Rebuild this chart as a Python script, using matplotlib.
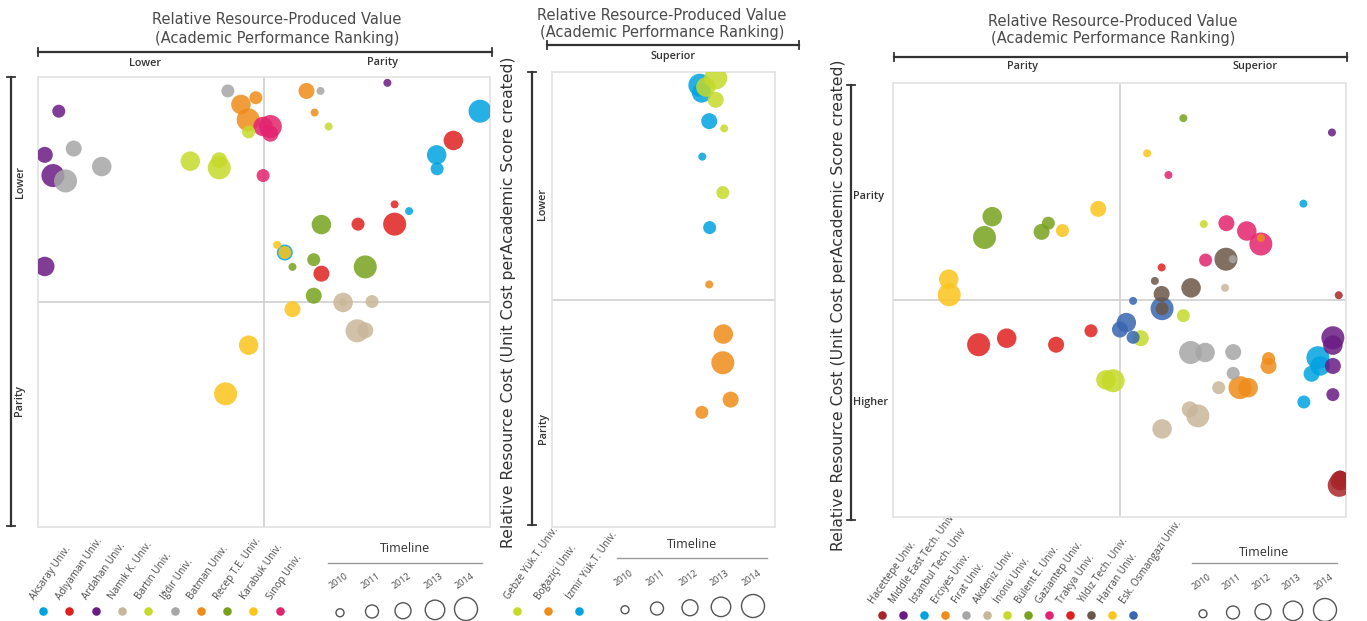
import matplotlib
matplotlib.use("Agg")
import matplotlib.pyplot as plt

plt.rcParams['font.family'] = ['Open Sans', 'DejaVu Sans']

W, H = 1367, 621
YEARS = [2010, 2011, 2012, 2013, 2014]
YEAR_DIAM = {2010: 8, 2011: 13, 2012: 16, 2013: 19.5, 2014: 23}

C = dict(cyan='#00a3e0', red='#e0201f', purple='#6a1b84', tan='#c9b79a', lime='#c5da2a',
         gray='#a6a6a6', orange='#ef8c1a', green='#78a21e', yellow='#fbc51c', pink='#e3236f',
         darkred='#a8262a', brown='#6b5747', blue='#3866b0')

# ---------------- Panel 1 data ----------------
p1_names = ["Aksaray Univ.", "Adıyaman Univ.", "Ardahan Univ.", "Namık K. Univ.", "Bartın Univ.",
            "Iğdır Univ.", "Batman Univ.", "Recep T.E. Univ.", "Karabuk Univ.", "Sinop Univ."]
p1_colors = [C['cyan'], C['red'], C['purple'], C['tan'], C['lime'],
             C['gray'], C['orange'], C['green'], C['yellow'], C['pink']]
p1_uni = [2, 2, 2, 2, 2, 5, 5, 5, 5, 5, 6, 6, 6, 6, 6, 4, 4, 4, 4, 4, 9, 9, 9, 9, 9,
          0, 0, 0, 0, 0, 1, 1, 1, 1, 1, 7, 7, 7, 7, 7, 3, 3, 3, 3, 3, 8, 8, 8, 8, 8]
p1_x = [77.3, 4.6, 1.5, 3.3, 1.5, 42.0, 62.5, 7.9, 14.1, 6.1, 48.2, 44.9, 46.5, 59.4, 61.2,
        46.6, 64.3, 33.7, 40.1, 40.1, 51.4, 49.8, 51.4, 49.8, 50.5,
        97.8, 88.2, 88.3, 82.1, 54.6, 91.9, 78.9, 70.8, 78.9, 62.7,
        62.7, 61.0, 56.3, 72.4, 61.0, 67.5, 67.5, 73.9, 70.6, 72.4,
        52.9, 54.6, 56.3, 46.6, 41.5]
p1_y = [98.7, 92.4, 82.7, 78.1, 57.9, 96.9, 96.9, 84.1, 80.1, 76.9, 95.4, 93.9, 90.5, 96.9, 92.1,
        87.8, 89.0, 81.3, 81.5, 79.8, 89.0, 89.0, 87.4, 78.1, 88.5,
        92.4, 82.7, 79.6, 70.2, 61.0, 85.9, 71.7, 67.3, 67.3, 56.3,
        67.2, 59.4, 57.8, 57.8, 51.4, 49.9, 49.9, 50.1, 43.6, 43.7,
        62.7, 61.0, 48.4, 40.4, 29.6]
p1_year = [2010, 2011, 2012, 2014, 2013, 2011, 2010, 2012, 2013, 2014, 2011, 2013, 2014, 2012, 2010,
           2011, 2010, 2013, 2012, 2014, 2014, 2013, 2012, 2011, 2010,
           2014, 2013, 2011, 2010, 2012, 2013, 2010, 2011, 2014, 2012,
           2013, 2011, 2010, 2014, 2012, 2013, 2010, 2011, 2014, 2012,
           2010, 2011, 2012, 2013, 2014]

# ---------------- Panel 2 data ----------------
p2_names = ["Gebze Yük.T. Univ.", "Boğaziçi Univ.", "İzmir Yük.T. Univ."]
p2_colors = [C['lime'], C['orange'], C['cyan']]
p2_uni = [2, 2, 2, 2, 2, 0, 0, 0, 0, 0, 1, 1, 1, 1, 1]
p2_x = [66.3, 67.1, 70.5, 67.4, 70.7, 73.4, 69.0, 73.4, 77.2, 76.6, 70.5, 76.8, 76.6, 80.1, 67.2]
p2_y = [97.1, 95.4, 89.2, 81.4, 65.8, 98.7, 96.7, 93.9, 87.6, 73.5, 53.3, 42.4, 36.1, 28.0, 25.2]
p2_year = [2014, 2013, 2012, 2010, 2011, 2014, 2013, 2012, 2010, 2011, 2010, 2013, 2014, 2012, 2011]

# ---------------- Panel 3 data ----------------
p3_names = ["Hacettepe Univ.", "Middle East Tech. Univ.", "Istanbul Tech. Univ", "Erciyes Univ.",
            "Fırat Univ.", "Akdeniz Univ.", "İnönü Univ.", "Bülent E. Univ.", "Gaziantep Univ.",
            "Trakya Univ.", "Yıldız Tech. Univ.", "Harran Univ.", "Esk. Osmangazi Univ."]
p3_colors = [C['darkred'], C['purple'], C['cyan'], C['orange'], C['gray'], C['tan'], C['lime'],
             C['green'], C['pink'], C['red'], C['brown'], C['yellow'], C['blue']]
p3_uni = [7] * 5 + [11] * 5 + [8] * 5 + [2] * 5 + [1] * 5 + [6] * 5 + [9] * 5 + [10] * 5 + \
         [4] * 5 + [3] * 5 + [5] * 5 + [12] * 5 + [0] * 5
p3_x = [64.1, 21.9, 20.2, 34.3, 32.8,
        56.1, 45.3, 37.4, 12.3, 12.4,
        60.8, 73.6, 78.1, 81.2, 69.0,
        90.6, 93.8, 94.3, 92.4, 90.7,
        96.9, 97.1, 97.1, 97.1, 97.1,
        68.6, 64.1, 54.7, 47.0, 48.6,
        59.3, 43.7, 25.1, 18.9, 36.0,
        57.8, 59.3, 65.8, 73.5, 59.4,
        75.0, 65.7, 68.9, 75.1, 75.1,
        81.2, 82.9, 82.9, 76.6, 78.4,
        73.3, 71.9, 65.5, 67.3, 59.4,
        53.0, 51.5, 50.1, 53.0, 59.4,
        98.4, 98.5, 98.7, 98.7, 98.7]
p3_y = [91.9, 69.2, 64.4, 67.7, 65.7,
        83.8, 71.0, 66.0, 54.8, 51.2,
        78.8, 67.7, 65.9, 62.9, 59.2,
        72.2, 36.7, 34.8, 33.0, 26.5,
        88.6, 41.3, 39.6, 34.8, 28.2,
        67.5, 46.4, 41.2, 31.6, 31.4,
        57.5, 42.9, 41.2, 39.7, 39.7,
        54.4, 51.4, 52.8, 59.4, 48.0,
        59.4, 37.9, 37.9, 38.0, 33.1,
        64.3, 36.5, 34.8, 29.8, 29.8,
        52.8, 29.8, 24.8, 23.3, 20.3,
        49.8, 44.8, 43.2, 41.4, 48.0,
        51.1, 7.3, 8.4, 8.8, 9.2]
p3_year = [2010, 2013, 2014, 2011, 2012,
           2010, 2012, 2011, 2013, 2014,
           2010, 2012, 2013, 2014, 2011,
           2010, 2014, 2013, 2012, 2011,
           2010, 2014, 2013, 2012, 2011,
           2010, 2011, 2012, 2013, 2014,
           2010, 2011, 2013, 2014, 2012,
           2010, 2012, 2013, 2014, 2011,
           2010, 2014, 2013, 2012, 2011,
           2010, 2011, 2012, 2014, 2013,
           2010, 2011, 2012, 2014, 2013,
           2010, 2013, 2012, 2011, 2014,
           2010, 2014, 2013, 2012, 2011]

TXT = '#4a4a4a'
DARK = '#333333'


def msize(year):
    return (YEAR_DIAM[year] * 0.72) ** 2


fig = plt.figure(figsize=(W / 100, H / 100), dpi=100)
ov = fig.add_axes([0, 0, 1, 1])
ov.set_xlim(0, W)
ov.set_ylim(H, 0)
ov.axis('off')


def panel(box, xs, ys, years, unis, colors, vline=True):
    x0, y0, x1, y1 = box
    ax = fig.add_axes([x0 / W, 1 - y1 / H, (x1 - x0) / W, (y1 - y0) / H])
    ax.set_xlim(0, 100)
    ax.set_ylim(0, 100)
    ax.set_xticks([])
    ax.set_yticks([])
    for s in ax.spines.values():
        s.set_color('#e2e2e2')
        s.set_linewidth(1.2)
    if vline:
        ax.axvline(50, color='#cfcfcf', lw=1.2, zorder=0)
    ax.axhline(50, color='#cfcfcf', lw=1.2, zorder=0)
    order = sorted(range(len(xs)), key=lambda i: -years[i])
    ax.scatter([xs[i] for i in order], [ys[i] for i in order],
               s=[msize(years[i]) for i in order],
               c=[colors[unis[i]] for i in order], alpha=0.85, linewidths=0, zorder=3)
    return ax


panel((38, 77, 490, 527), p1_x, p1_y, p1_year, p1_uni, p1_colors)
panel((552, 72, 775, 527), p2_x, p2_y, p2_year, p2_uni, p2_colors, vline=False)
panel((893, 83, 1346, 517), p3_x, p3_y, p3_year, p3_uni, p3_colors)


def hbracket(xa, xb, y):
    ov.plot([xa, xb], [y, y], color=DARK, lw=1.6)
    ov.plot([xa, xa], [y - 4, y + 4], color=DARK, lw=1.3)
    ov.plot([xb, xb], [y - 4, y + 4], color=DARK, lw=1.3)


def vbracket(x, ya, yb):
    ov.plot([x, x], [ya, yb], color=DARK, lw=1.6)
    ov.plot([x - 4, x + 4], [ya, ya], color=DARK, lw=1.3)
    ov.plot([x - 4, x + 4], [yb, yb], color=DARK, lw=1.3)


def title(cx, y1, y2):
    ov.text(cx, y1, "Relative Resource-Produced Value", ha='center', va='center',
            fontsize=10.5, color=TXT, family='DejaVu Sans')
    ov.text(cx, y2, "(Academic Performance Ranking)", ha='center', va='center',
            fontsize=10.5, color=TXT, family='DejaVu Sans')


title(277, 20, 38)
title(662, 16, 33)
title(1113, 21, 38)

hbracket(38, 492, 52)
hbracket(547, 799, 45)
hbracket(894, 1347, 57)

for x, y, t in [(145, 63, "Lower"), (382, 63, "Parity"), (673, 56, "Superior"),
                (1022, 66, "Parity"), (1255, 66, "Superior")]:
    ov.text(x, y, t, ha='center', va='center', fontsize=7.8, color=DARK, fontweight='semibold')

vbracket(11, 77, 526)
vbracket(532, 72, 525)
vbracket(851, 85, 520)

for x, y, t in [(20, 182, "Lower"), (20, 400, "Parity"), (543, 204, "Lower"), (543, 429, "Parity")]:
    ov.text(x, y, t, ha='center', va='center', rotation=90, fontsize=7.8, color=DARK,
            fontweight='semibold')
for x, y, t in [(853, 196, "Parity"), (853, 402, "Higher")]:
    ov.text(x, y, t, ha='left', va='center', fontsize=7.8, color=DARK, fontweight='semibold')

ylab = "Relative Resource Cost (Unit Cost perAcademic Score created)"
ov.text(508, 302, ylab, ha='center', va='center', rotation=90, fontsize=11.3, color=DARK,
        family='DejaVu Sans')
ov.text(838, 305, ylab, ha='center', va='center', rotation=90, fontsize=11.3, color=DARK,
        family='DejaVu Sans')

for x, y, t in [(147, 199, "Cell 1"), (349, 199, "Cell 2"), (147, 409, "Cell 4"), (349, 409, "Cell 5"),
                (649, 206, "Cell 3"), (649, 419, "Cell 6"),
                (1025, 197, "Cell 5"), (1222, 197, "Cell 6"), (1025, 441, "Cell 8"), (1222, 441, "Cell 9")]:
    ov.text(x, y, t, ha='center', va='center', fontsize=12.5, color='#555555')


def uni_legend(names, colors, xstart, step, ydot):
    for i, (n, c) in enumerate(zip(names, colors)):
        x = xstart + i * step
        ov.scatter([x], [ydot], s=38, color=c, linewidths=0)
        ov.text(x - 6, ydot - 9, n, rotation=55, ha='left', va='bottom', rotation_mode='anchor',
                fontsize=7.2, color=TXT)


def timeline(xs, ycirc, ytitle, yline, xl0, xl1):
    ov.text((xl0 + xl1) / 2, ytitle, "Timeline", ha='center', va='center', fontsize=9, color=DARK)
    ov.plot([xl0, xl1], [yline, yline], color='#9a9a9a', lw=1.0)
    for x, yr in zip(xs, YEARS):
        d = YEAR_DIAM[yr]
        ov.scatter([x], [ycirc + (23 - d) / 2 * 0.5], s=msize(yr), facecolors='none',
                   edgecolors='#555555', linewidths=1.0)
        ov.text(x - 7, ycirc - 18, str(yr), rotation=35, ha='left', va='bottom',
                rotation_mode='anchor', fontsize=6.5, color=TXT)


uni_legend(p1_names, p1_colors, 43, 26.3, 611)
timeline([340, 372, 403, 435, 466], 609, 549, 563, 328, 482)

uni_legend(p2_names, p2_colors, 517, 31, 611)
timeline([625, 657, 690, 721, 753], 606, 545, 558, 617, 767)

uni_legend(p3_names, p3_colors, 882, 20.9, 615)
timeline([1203, 1233, 1263, 1293, 1325], 610, 552, 563, 1192, 1337)

fig.savefig("out.png", dpi=100)
